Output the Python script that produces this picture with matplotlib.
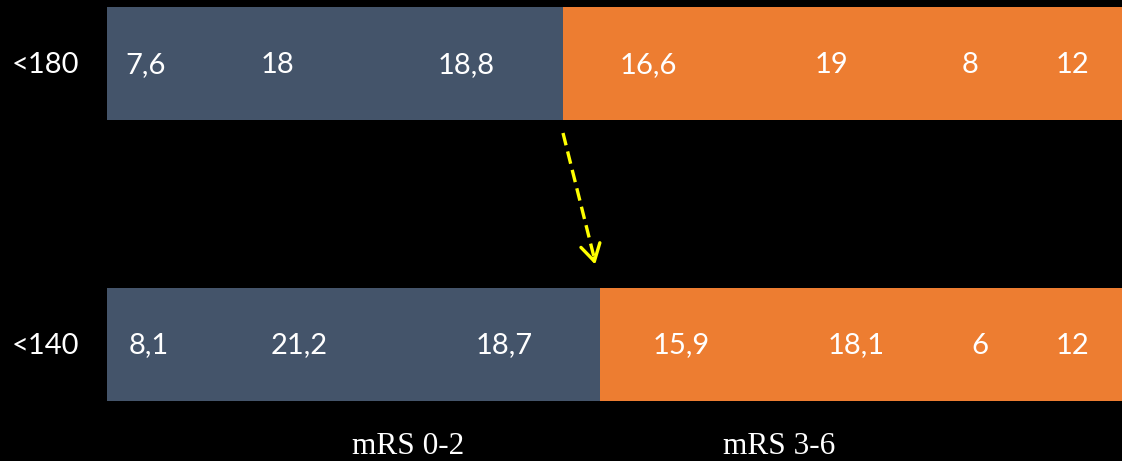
import matplotlib
matplotlib.use("Agg")
import matplotlib.pyplot as plt
import numpy as np

# Threshold groups and their mRS distribution (percent)
groups = ["<180", "<140"]
values = {
    "<180": [7.6, 18, 18.8, 16.6, 19, 8, 12],
    "<140": [8.1, 21.2, 18.7, 15.9, 18.1, 6, 12],
}
# first three segments are mRS 0-2, remaining four mRS 3-6
n_good = 3
group_labels = ["mRS 0-2", "mRS 3-6"]

c_good = "#44546A"
c_bad = "#ED7D31"

W, H = 1122, 461
fig = plt.figure(figsize=(W / 100, H / 100), dpi=100, facecolor="black")

px_per_unit = 10.27
left_px = 107
ax = fig.add_axes([left_px / W, 0, 1 - left_px / W, 1])
ax.set_facecolor("black")
ax.set_xlim(0, (W - left_px) / px_per_unit)

row_gap_px = 280.5
top_center_px = 63.5
ax.set_ylim(1 + (H - top_center_px - row_gap_px) / row_gap_px,
            -top_center_px / row_gap_px)
bar_h = 113 / row_gap_px

font = ["Lato", "DejaVu Sans"]
text_dy = 1.5 / row_gap_px

def fmt(v):
    s = f"{v:g}"
    return s.replace(".", ",")

for yi, g in enumerate(groups):
    vals = values[g]
    starts = np.concatenate([[0], np.cumsum(vals)[:-1]])
    colors = [c_good if i < n_good else c_bad for i in range(len(vals))]
    ax.barh(yi, vals, left=starts, height=bar_h, color=colors, linewidth=0)
    for s, v in zip(starts, vals):
        ax.text(s + v / 2, yi + text_dy, fmt(v), color="white", fontsize=21,
                family=font, ha="center", va="center")
    ax.text(-(left_px - 45) / px_per_unit, yi + text_dy, g, color="white",
            fontsize=21, family=font, ha="center", va="center", clip_on=False)

# Arrow showing the shift of the mRS 0-2 boundary
b0 = sum(values[groups[0]][:n_good])
b1 = sum(values[groups[1]][:n_good])
y0 = bar_h / 2 + 13 / row_gap_px
y1 = 1 - bar_h / 2 - 23 / row_gap_px
x_end = b0 + (b1 - b0) * 0.87
ax.plot([b0, x_end], [y0, y1 - 0.01], color="#FFFF00", lw=2.4,
        ls=(0, (3.8, 1.9)), solid_capstyle="butt")
ax.annotate("", xy=(x_end, y1),
            xytext=(x_end - (x_end - b0) * 0.05, y1 - (y1 - y0) * 0.05),
            arrowprops=dict(arrowstyle="->,head_length=1.2,head_width=0.7",
                            color="#FFFF00", lw=2.4, shrinkA=0, shrinkB=0))

# Group captions beneath the bars
for lbl, xp in zip(group_labels, [408, 779]):
    ax.text((xp - left_px) / px_per_unit,
            1 + (446 - top_center_px - row_gap_px) / row_gap_px,
            lbl, color="white", fontsize=22.5, family=["Liberation Serif"],
            ha="center", va="center")

ax.axis("off")
fig.savefig("out.png", dpi=100, facecolor="black")
